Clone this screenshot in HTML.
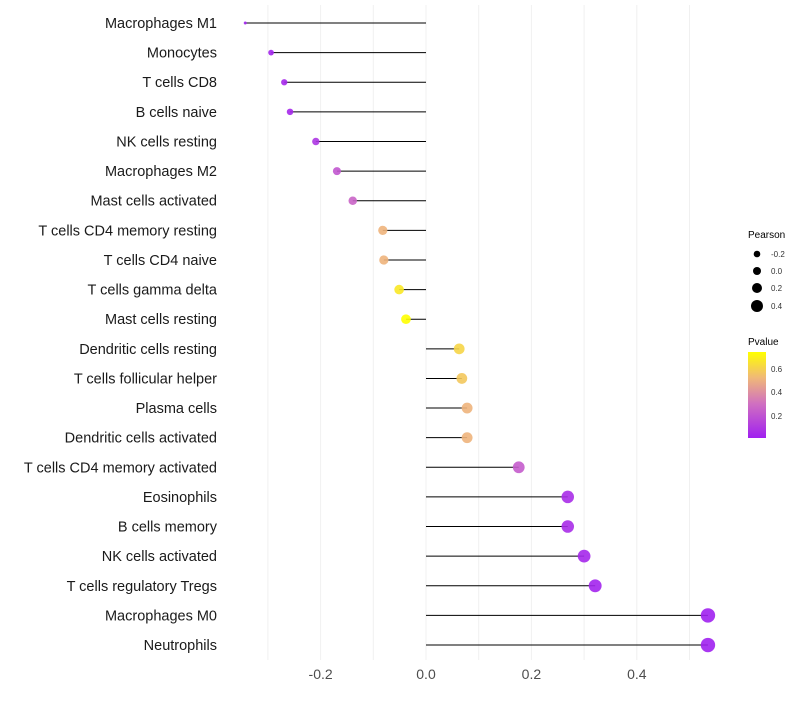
<!DOCTYPE html>
<html><head><meta charset="utf-8"><style>
body{margin:0;background:#fff;font-family:"Liberation Sans",sans-serif}
</style></head><body>
<svg id="chart" width="800" height="700" xmlns="http://www.w3.org/2000/svg" font-family="Liberation Sans, sans-serif">
<defs><linearGradient id="pg" x1="0" y1="1" x2="0" y2="0">
<stop offset="0" stop-color="#a020f0"/><stop offset="0.4" stop-color="#d070c0"/><stop offset="0.7" stop-color="#f0b878"/><stop offset="1" stop-color="#ffff00"/></linearGradient></defs>
<g id="grid"></g><g id="marks"></g><g id="labels"></g><g id="legend"></g>
</svg>
<script>
const categories=["Macrophages M1","Monocytes","T cells CD8","B cells naive","NK cells resting","Macrophages M2","Mast cells activated","T cells CD4 memory resting","T cells CD4 naive","T cells gamma delta","Mast cells resting","Dendritic cells resting","T cells follicular helper","Plasma cells","Dendritic cells activated","T cells CD4 memory activated","Eosinophils","B cells memory","NK cells activated","T cells regulatory  Tregs ","Macrophages M0","Neutrophils"];
const pearson=[-0.343,-0.294,-0.269,-0.258,-0.209,-0.169,-0.139,-0.082,-0.080,-0.051,-0.038,0.063,0.068,0.078,0.078,0.176,0.269,0.269,0.300,0.321,0.535,0.535];
const pvalue=[0.01,0.02,0.03,0.03,0.08,0.2,0.25,0.5,0.5,0.66,0.73,0.6,0.56,0.5,0.5,0.22,0.05,0.05,0.03,0.02,0.002,0.002];
const xTicks=[-0.2,0,0.2,0.4];
const xTickLabels=["-0.2","0.0","0.2","0.4"];
const NS="http://www.w3.org/2000/svg";
const x=v=>426+v*527;
const y=i=>23+i*29.62;
const pmin=Math.min(...pearson),pmax=Math.max(...pearson);
const rad=p=>{const t=(p-pmin)/(pmax-pmin);return 1.5+5.7*Math.sqrt(t);};
function col(p){const t=Math.min(1,p/0.73);const st=[[0,[160,32,240]],[0.4,[208,112,192]],[0.7,[240,184,120]],[1,[255,255,0]]];
for(let k=0;k<st.length-1;k++){const a=st[k],b=st[k+1];if(t<=b[0]){const f=(t-a[0])/(b[0]-a[0]);return`rgb(${a[1].map((c,j)=>Math.round(c+(b[1][j]-c)*f)).join(",")})`}}return"rgb(255,255,0)"}
function mk(tag,at,parent){const e=document.createElementNS(NS,tag);for(const k in at)e.setAttribute(k,at[k]);document.getElementById(parent).appendChild(e);return e}
for(let v=-0.3;v<=0.51;v+=0.1){const l=mk("line",{x1:x(v),x2:x(v),y1:5,y2:660,stroke:"#f0f0f0","stroke-width":1},"grid");

}
xTicks.forEach((v,i)=>{const t=mk("text",{x:x(v),y:679,"text-anchor":"middle","font-size":14,fill:"#4d4d4d"},"labels");t.textContent=xTickLabels[i];

});
categories.forEach((c,i)=>{
const t=mk("text",{x:217,y:y(i)+5,"text-anchor":"end","font-size":14.5,fill:"#1a1a1a"},"labels");t.textContent=c;


const l=mk("line",{x1:x(0),x2:x(pearson[i]),y1:y(i),y2:y(i),stroke:"#000","stroke-width":1},"marks");


const d=mk("circle",{cx:x(pearson[i]),cy:y(i),r:rad(pearson[i]),fill:col(pvalue[i]),"fill-opacity":0.9},"marks");


});
const lt=mk("text",{x:748,y:238,"font-size":10,fill:"#000"},"legend");lt.textContent="Pearson";


const sz=[-0.2,0,0.2,0.4],szr=[3.3,4,5,6],szy=[254,271,288,306];
sz.forEach((v,i)=>{const c=mk("circle",{cx:757,cy:szy[i],r:szr[i],fill:"#000"},"legend");


const t=mk("text",{x:771,y:szy[i]+3,"font-size":8,fill:"#333"},"legend");t.textContent=xTickLabels[i];

});
const pt=mk("text",{x:748,y:345,"font-size":10,fill:"#000"},"legend");pt.textContent="Pvalue";


const bar=mk("rect",{x:748,y:352,width:18,height:86,fill:"url(#pg)"},"legend");


[["0.6",369],["0.4",392],["0.2",416]].forEach(a=>{const t=mk("text",{x:771,y:a[1]+3,"font-size":8,fill:"#333"},"legend");t.textContent=a[0];

});
</script>
</body></html>
